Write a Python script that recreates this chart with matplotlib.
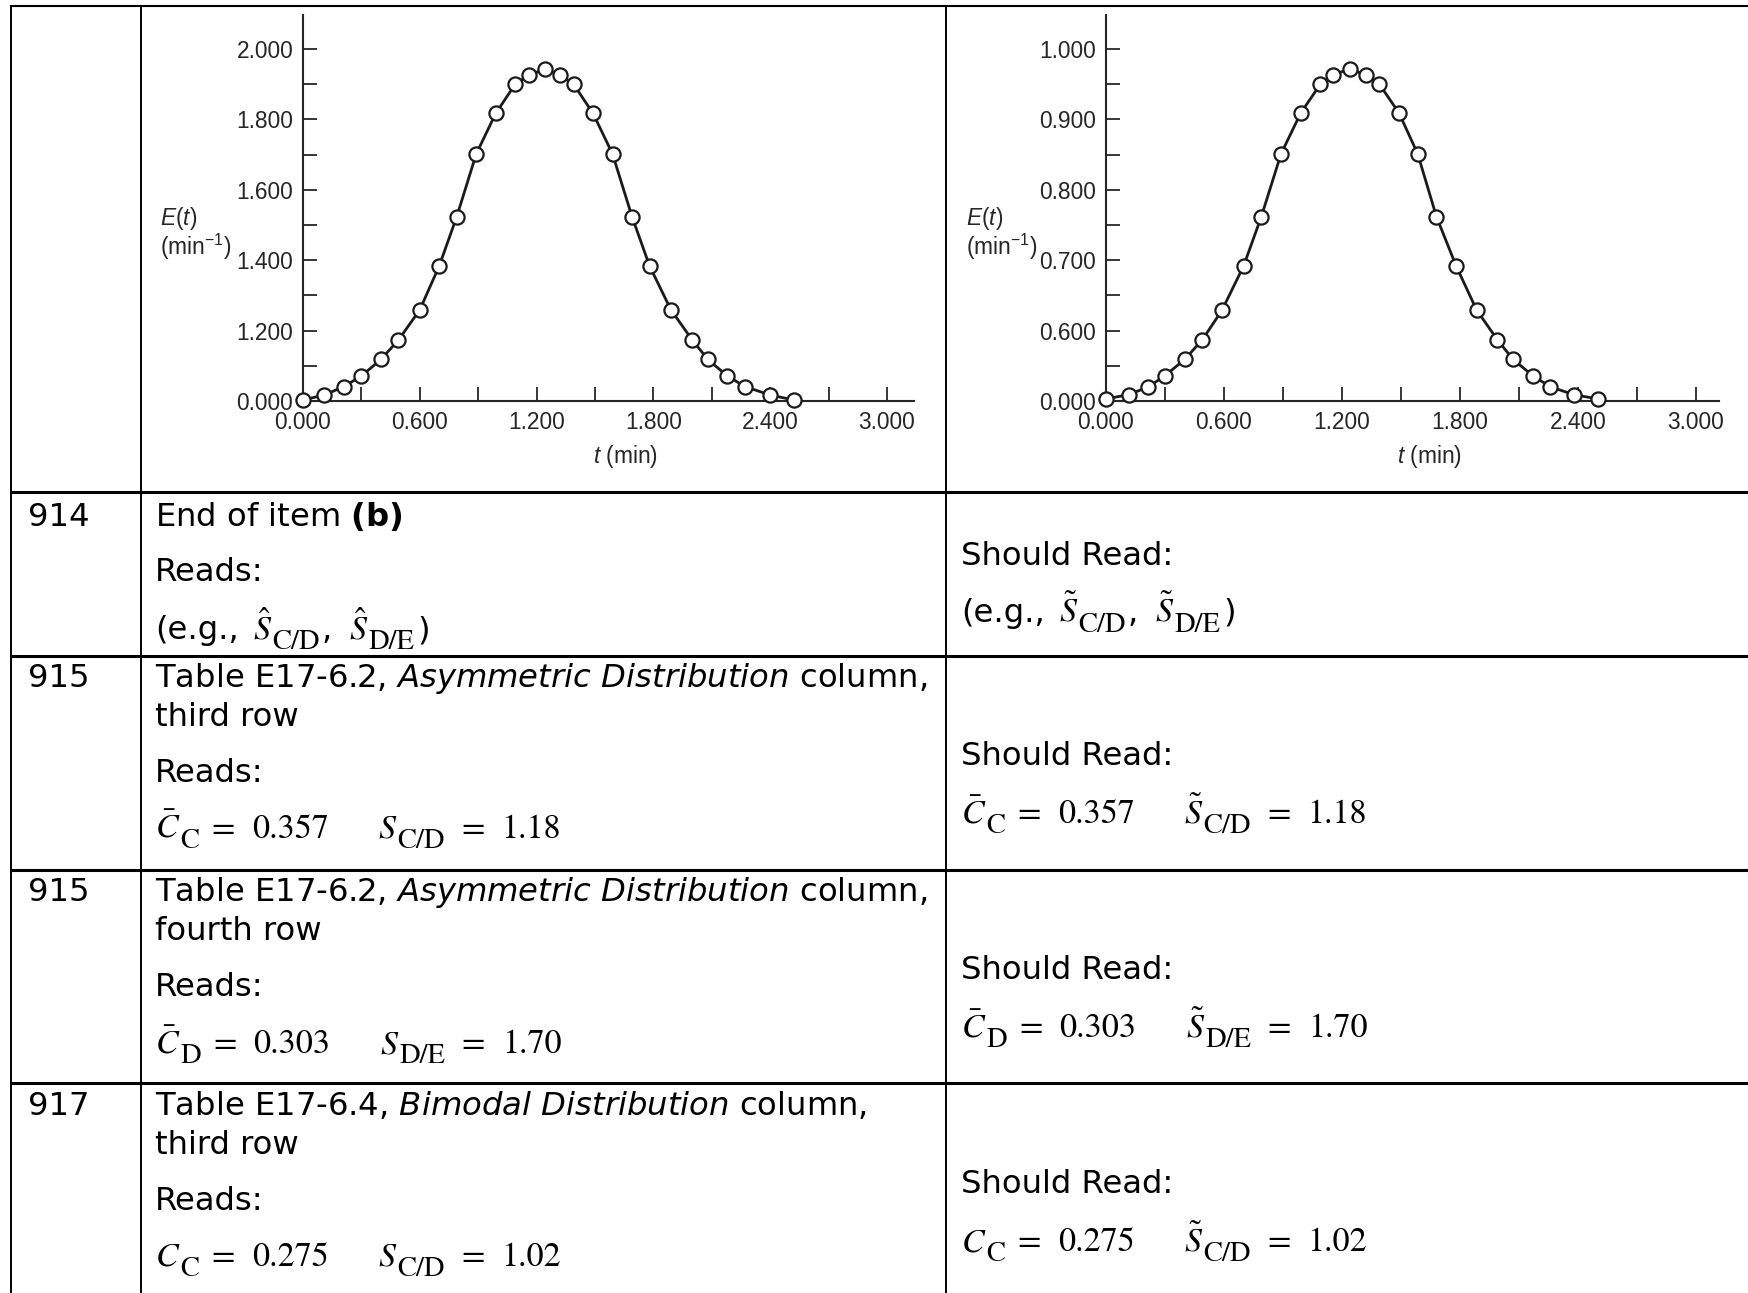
import matplotlib
matplotlib.use("Agg")
import matplotlib.pyplot as plt

W, H, DPI = 1749, 1293, 100

# ---------------- data ----------------
t_left = [0.00, 0.11, 0.21, 0.30, 0.40, 0.49, 0.60, 0.70, 0.79, 0.89, 0.99, 1.09, 1.16,
          1.245, 1.32, 1.39, 1.49, 1.59, 1.69, 1.78, 1.89, 2.00, 2.08, 2.18, 2.27, 2.40, 2.52]
E_left = [1.003, 1.017, 1.041, 1.071, 1.118, 1.173, 1.259, 1.384, 1.524, 1.702, 1.817, 1.900, 1.926,
          1.943, 1.926, 1.900, 1.817, 1.702, 1.524, 1.384, 1.259, 1.173, 1.118, 1.071, 1.041, 1.017, 1.003]
t_right = [0.00, 0.115, 0.215, 0.30, 0.40, 0.49, 0.59, 0.70, 0.79, 0.89, 0.99, 1.09, 1.155,
           1.24, 1.32, 1.39, 1.49, 1.585, 1.68, 1.78, 1.885, 1.99, 2.07, 2.17, 2.26, 2.38, 2.50]
E_right = [0.503, 0.509, 0.520, 0.536, 0.559, 0.587, 0.629, 0.692, 0.762, 0.851, 0.909, 0.950, 0.963,
           0.972, 0.963, 0.950, 0.909, 0.851, 0.762, 0.692, 0.629, 0.587, 0.559, 0.536, 0.520, 0.509, 0.503]

x_major = [0.0, 0.6, 1.2, 1.8, 2.4, 3.0]
x_major_labels = ["0.000", "0.600", "1.200", "1.800", "2.400", "3.000"]
x_minor = [0.3, 0.9, 1.5, 2.1, 2.7]
yl_major = [1.0, 1.2, 1.4, 1.6, 1.8, 2.0]
yl_labels = ["0.000", "1.200", "1.400", "1.600", "1.800", "2.000"]
yl_minor = [1.1, 1.3, 1.5, 1.7, 1.9]
yr_major = [0.5, 0.6, 0.7, 0.8, 0.9, 1.0]
yr_labels = ["0.000", "0.600", "0.700", "0.800", "0.900", "1.000"]
yr_minor = [0.55, 0.65, 0.75, 0.85, 0.95]

row_ids = ["914", "915", "915", "917"]

# ---------------- style ----------------
plt.rcParams['mathtext.fontset'] = 'custom'
plt.rcParams['mathtext.rm'] = 'Liberation Sans'
plt.rcParams['mathtext.it'] = 'Liberation Sans:italic'
plt.rcParams['mathtext.bf'] = 'Liberation Sans:bold'

PLOT_FONT = ['Liberation Sans', 'DejaVu Sans']
PC = '#262626'
TICK_FS = 16.4

fig = plt.figure(figsize=(W / DPI, H / DPI), dpi=DPI)
renderer = fig.canvas.get_renderer()
bg = fig.add_axes([0, 0, 1, 1])
bg.set_xlim(0, W)
bg.set_ylim(H, 0)
bg.axis('off')

# ---------------- table grid ----------------
bg.plot([10, W], [6, 6], color='black', lw=1.5, solid_capstyle='butt')
for y in [492, 656, 870, 1083]:
    bg.plot([10, W], [y, y], color='black', lw=2.2, solid_capstyle='butt')
for x in [11, 141, 946]:
    bg.plot([x, x], [5, H], color='black', lw=1.4, solid_capstyle='butt')


# ---------------- plots ----------------
def make_plot(x0, x_at3, x_end, y_top, y_base, y_at_top_tick, t, E, ybase, ystep_top,
              ymaj, ylabels, ymin):
    ax = fig.add_axes([x0 / W, 1 - y_base / H, (x_end - x0) / W, (y_base - y_top) / H])
    ppu_x = (x_at3 - x0) / 3.0
    ax.set_xlim(0, (x_end - x0) / ppu_x)
    ppu_y = (y_base - y_at_top_tick) / (ystep_top - ybase)
    ax.set_ylim(ybase, ybase + (y_base - y_top) / ppu_y)
    ax.patch.set_alpha(0)
    for s in ['top', 'right']:
        ax.spines[s].set_visible(False)
    for s in ['left', 'bottom']:
        ax.spines[s].set_color(PC)
        ax.spines[s].set_linewidth(1.5)
    ax.set_xticks(x_major)
    ax.set_xticklabels(x_major_labels)
    ax.set_xticks(x_minor, minor=True)
    ax.set_yticks(ymaj)
    ax.set_yticklabels(ylabels)
    ax.set_yticks(ymin, minor=True)
    ax.tick_params(which='both', direction='in', length=10, width=1.3, color=PC)
    ax.tick_params(axis='x', which='major', pad=7.5, labelsize=TICK_FS, labelcolor=PC)
    ax.tick_params(axis='y', which='major', pad=7, labelsize=TICK_FS, labelcolor=PC)
    for lab in ax.get_xticklabels() + ax.get_yticklabels():
        lab.set_family(PLOT_FONT)
    ax.plot(t, E, color='#1a1a1a', lw=2.0, zorder=3, clip_on=False)
    ax.plot(t, E, 'o', ms=10.2, mfc='white', mec='#1a1a1a', mew=1.6, zorder=4, clip_on=False)
    return ax


make_plot(303, 887, 914, 15, 401, 49, t_left, E_left, 1.0, 2.0, yl_major, yl_labels, yl_minor)
make_plot(1106, 1696, 1719, 15, 401, 49, t_right, E_right, 0.5, 1.0, yr_major, yr_labels, yr_minor)

for xl, xc in [(160, 626), (966, 1430)]:
    bg.text(xl, 218, r"$E$($t$)", fontsize=TICK_FS, color=PC, family=PLOT_FONT, ha='left', va='center')
    bg.text(xl, 247, r"(min$^{-1}$)", fontsize=TICK_FS, color=PC, family=PLOT_FONT, ha='left', va='center')
    bg.text(xc, 456, r"$t$ (min)", fontsize=TICK_FS, color=PC, family=PLOT_FONT, ha='center', va='center')

# ---------------- table text ----------------
TFS = 23.2
MFS = 24.5
SUB = 20.5
SUB_DY = 10
X1, X2, X3 = 28, 155, 961


def txt(x, y, s, fs=TFS, kind='dv'):
    fam = 'STIXGeneral' if kind == 'st' else 'DejaVu Sans'
    mf = 'stix' if kind in ('mt', 'st') else 'dejavusans'
    return bg.text(x, y, s, fontsize=fs, family=fam, color='black', ha='left',
                   va='baseline', math_fontfamily=mf)


def seq(x, y, items):
    """Place pieces one after another; a number is a gap in pixels."""
    for it in items:
        if isinstance(it, (int, float)):
            x += it
            continue
        s, fs, kind, dy = it
        t = txt(x, y + dy, s, fs=fs, kind=kind)
        x += t.get_window_extent(renderer).width


def sym(main, sub):
    return [(main, MFS, 'mt', 0), (sub, SUB, 'st', SUB_DY)]


def eq_line(x, y, lmain, lsub, lval, rmain, rsub, rval):
    items = (sym(lmain, lsub) + [12, ("=", MFS, 'st', 0), 17, (lval, MFS, 'st', 0), 50]
             + sym(rmain, rsub) + [16, ("=", MFS, 'st', 0), 17, (rval, MFS, 'st', 0)])
    seq(x, y, items)


def eg_line(x, y, acc):
    items = ([("(e.g.,", TFS, 'dv', 0), 14] + sym(r"$%s{S}$" % acc, "C/D")
             + [2, (",", TFS, 'dv', 0), 17] + sym(r"$%s{S}$" % acc, "D/E")
             + [3, (")", TFS, 'dv', 0)])
    seq(x, y, items)


# row 914
txt(X1, 526, row_ids[0])
txt(X2, 526, r"End of item $\mathbf{(b)}$")
txt(X2, 581, "Reads:")
eg_line(X2, 639, r"\hat")
txt(X3, 565, "Should Read:")
eg_line(X3, 622, r"\tilde")

# row 915 (third row)
txt(X1, 687, row_ids[1])
txt(X2, 687, r"Table E17-6.2, $\mathit{Asymmetric\ Distribution}$ column,")
txt(X2, 726, "third row")
txt(X2, 782, "Reads:")
eq_line(X2, 838, r"$\bar{C}$", "C", "0.357", r"$S$", "C/D", "1.18")
txt(X3, 765, "Should Read:")
eq_line(X3, 823, r"$\bar{C}$", "C", "0.357", r"$\tilde{S}$", "C/D", "1.18")

# row 915 (fourth row)
txt(X1, 901, row_ids[2])
txt(X2, 901, r"Table E17-6.2, $\mathit{Asymmetric\ Distribution}$ column,")
txt(X2, 940, "fourth row")
txt(X2, 996, "Reads:")
eq_line(X2, 1053, r"$\bar{C}$", "D", "0.303", r"$S$", "D/E", "1.70")
txt(X3, 979, "Should Read:")
eq_line(X3, 1037, r"$\bar{C}$", "D", "0.303", r"$\tilde{S}$", "D/E", "1.70")

# row 917
txt(X1, 1115, row_ids[3])
txt(X2, 1115, r"Table E17-6.4, $\mathit{Bimodal\ Distribution}$ column,")
txt(X2, 1154, "third row")
txt(X2, 1210, "Reads:")
eq_line(X2, 1266, r"$C$", "C", "0.275", r"$S$", "C/D", "1.02")
txt(X3, 1193, "Should Read:")
eq_line(X3, 1251, r"$C$", "C", "0.275", r"$\tilde{S}$", "C/D", "1.02")

fig.savefig("out.png", dpi=DPI)
